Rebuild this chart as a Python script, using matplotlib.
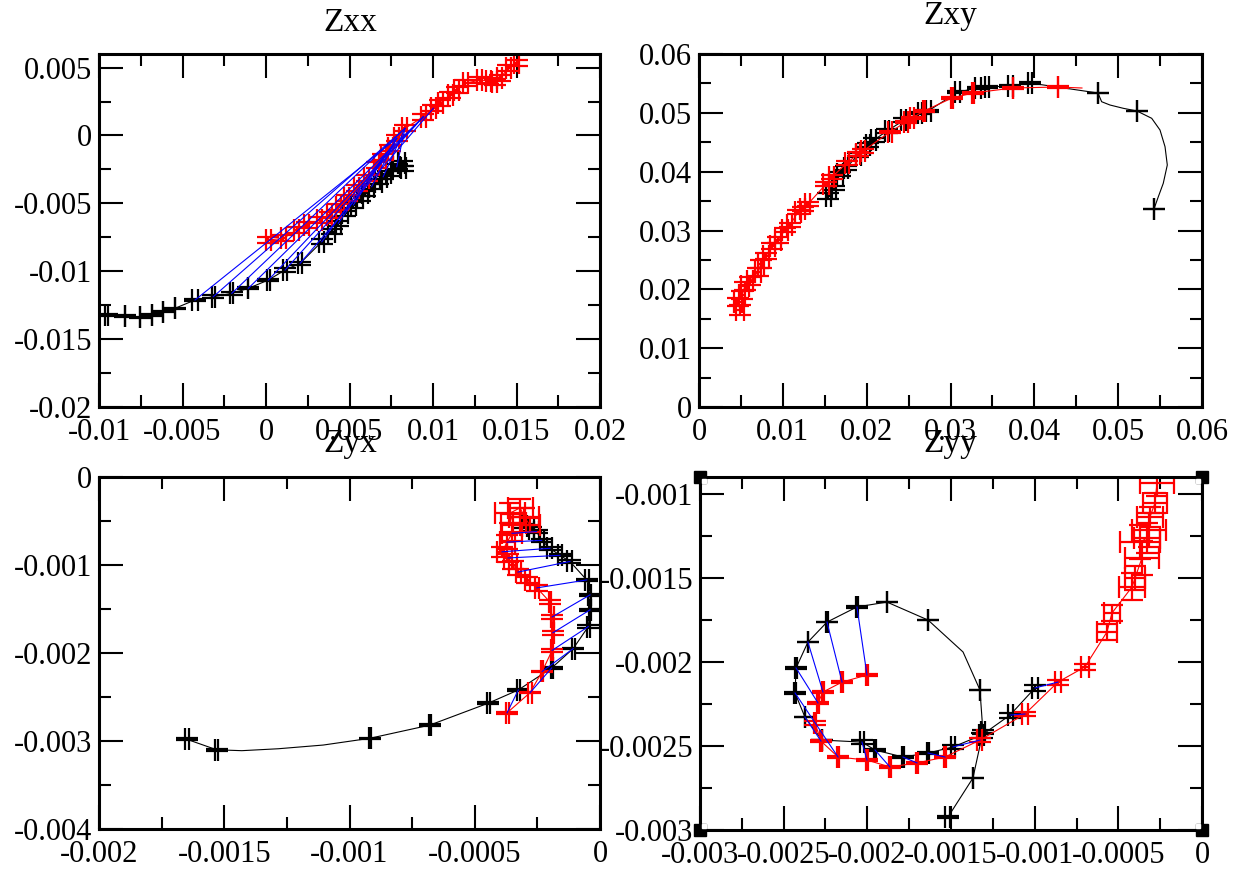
import numpy as np
import matplotlib
matplotlib.use("Agg")
from matplotlib import pyplot as plt
from matplotlib.ticker import MultipleLocator, FuncFormatter
from matplotlib.patches import Rectangle

plt.rcParams['font.family'] = ['Liberation Serif', 'DejaVu Serif']
plt.rcParams['axes.unicode_minus'] = False

# ---------------- Zxx ----------------
zxx_bx = [-0.00954, -0.00844, -0.00754, -0.00681, -0.00615, -0.00545, -0.00425, -0.00316, -0.00205,
          -0.00106, 0.00014, 0.00114, 0.00204, 0.00334, 0.00393, 0.00433, 0.00473, 0.00523, 0.00563,
          0.00593, 0.00633, 0.00672, 0.00702, 0.00732, 0.00783, 0.00813, 0.00822]
zxx_by = [-0.01322, -0.0133, -0.01339, -0.01322, -0.01298, -0.01273, -0.01212, -0.01188, -0.01163,
          -0.01126, -0.01065, -0.00991, -0.00942, -0.00783, -0.00709, -0.00647, -0.00573, -0.00512,
          -0.00463, -0.00426, -0.00377, -0.00341, -0.00304, -0.00279, -0.0023, -0.00205, -0.00242]
zxx_bex = [0.0001, 0, 0, 0, 0, 0, 0.0002, 0.0001, 0.0001, 0, 0.0001, 0.0001, 0.0001, 0.00015, 0.0002,
           0.00015, 0.0002, 0.00015, 0.0002, 0.0002, 0.00015, 0.0002, 0.0002, 0.00015, 0.0002, 0.0002, 0.00015]
zxx_bey = [0.00008, 0.00005, 0.00005, 0.00005, 0.00005, 0.00005, 0.00008, 0.0001, 0.0001, 0.00008,
           0.0001, 0.00012, 0.00012, 0.0002, 0.0002, 0.0002, 0.0002, 0.0002, 0.0002, 0.0002,
           0.0002, 0.0002, 0.0002, 0.0002, 0.0002, 0.0002, 0.0002]
zxx_rx = [0.00014, 0.00104, 0.00184, 0.00244, 0.00323, 0.00383, 0.00433, 0.00483, 0.00543, 0.00603,
          0.00663, 0.00703, 0.00743, 0.00783, 0.00832, 0.00942, 0.01002, 0.01042, 0.01102, 0.01142,
          0.01192, 0.01281, 0.01331, 0.01371, 0.01401, 0.01451, 0.01501]
zxx_ry = [-0.0077, -0.00758, -0.00696, -0.0066, -0.00623, -0.00586, -0.00525, -0.00463, -0.00389,
          -0.00316, -0.00218, -0.00157, -0.00095, -0.00021, 0.00052, 0.00138, 0.002, 0.00237, 0.00298,
          0.00335, 0.00384, 0.00408, 0.00403, 0.00396, 0.00421, 0.00494, 0.00531]
zxx_rex = [0.00015] * 27
zxx_rey = [0.00022] * 27
zxx_pairs = [(6, 13), (7, 14), (8, 14), (9, 15), (10, 15), (11, 15), (12, 16),
             (13, 11), (15, 12), (17, 13), (20, 13), (22, 14), (24, 14)]

# ---------------- Zxy ----------------
zxy_bx = [0.01539, 0.0161, 0.01682, 0.01753, 0.01897, 0.02016, 0.02087, 0.02242, 0.02445, 0.02636,
          0.02732, 0.03089, 0.03328, 0.03435, 0.0371, 0.03948, 0.04759, 0.05224, 0.05427]
zxy_by = [0.03586, 0.03722, 0.0396, 0.04062, 0.04283, 0.04453, 0.04538, 0.04691, 0.04874, 0.04997,
          0.05031, 0.05354, 0.05423, 0.05439, 0.05456, 0.05507, 0.05337, 0.05031, 0.03365]
zxy_bex = [0.0003, 0.0002, 0.0003, 0.0002, 0.0003, 0.0002, 0.0003, 0.0002, 0.0003, 0.0002,
           0.0003, 0.0003, 0.0003, 0.0002, 0.0003, 0.0002, 0, 0, 0]
zxy_bey = [0.0005, 0.0004, 0.0004, 0.0004, 0.0003, 0.0003, 0.0003, 0.0003, 0.0003, 0.0002,
           0.0002, 0.0002, 0.0002, 0.0002, 0.0002, 0.0002, 0, 0, 0]
zxy_tail_x = [0.04759, 0.04803, 0.04902, 0.05061, 0.05224, 0.054, 0.05499, 0.05559, 0.05586,
              0.05538, 0.05479, 0.05427]
zxy_tail_y = [0.05337, 0.05189, 0.05133, 0.05077, 0.05031, 0.04907, 0.04708, 0.04424, 0.04113,
              0.03802, 0.03574, 0.03365]
zxy_rx = [0.00489, 0.00465, 0.00513, 0.00549, 0.00608, 0.00704, 0.0074, 0.00799, 0.00871, 0.00942,
          0.01026, 0.01085, 0.01181, 0.0124, 0.013, 0.01515, 0.01586, 0.01765, 0.01897, 0.01956,
          0.02278, 0.02469, 0.02541, 0.02684, 0.03018, 0.03268, 0.03745, 0.04282]
zxy_ry = [0.01649, 0.01785, 0.01904, 0.02057, 0.02142, 0.02295, 0.02431, 0.02567, 0.02737, 0.02838,
          0.03008, 0.03093, 0.03314, 0.03365, 0.0345, 0.0379, 0.03909, 0.04147, 0.043, 0.04351,
          0.04674, 0.04844, 0.04912, 0.05031, 0.05252, 0.05337, 0.05422, 0.05439]
zxy_rex = [0.0005, 0.0005, 0.0004, 0.0005, 0.0004, 0.0004, 0.0004, 0.0004, 0.0003, 0.0004,
           0.0003, 0.0003, 0.0003, 0.0003, 0.0003, 0.0003, 0.0003, 0.0002, 0.0002, 0.0002,
           0.0002, 0.0002, 0.0002, 0.0001, 0.0001, 0.0001, 0, 0]
zxy_rey = [0.0008, 0.0007, 0.0007, 0.0007, 0.0006, 0.0006, 0.0006, 0.0005, 0.0005, 0.0005,
           0.0004, 0.0004, 0.0004, 0.0004, 0.0004, 0.0003, 0.0003, 0.0003, 0.0003, 0.0003,
           0.0002, 0.0002, 0.0002, 0.0002, 0.0002, 0.0002, 0.0001, 0.0001]
zxy_rend_x = [0.04568]
zxy_rend_y = [0.05422]

# ---------------- Zyx ----------------
zyx_bx = [-0.00165, -0.00153, -0.00092, -0.00068, -0.000446, -0.000326, -0.000193, -0.000107,
          -0.0000467, -0.00004, -0.00004, -0.000053, -0.00012, -0.00016, -0.0002, -0.000233,
          -0.000253, -0.000275, -0.000303]
zyx_by = [-0.00298, -0.0031, -0.00297, -0.00282, -0.00257, -0.00242, -0.00217, -0.00195, -0.0017,
          -0.00151, -0.00134, -0.00117, -0.00096, -0.00089, -0.00081, -0.00072, -0.00062, -0.00059,
          -0.000557]
zyx_bex = [0.000008, 0.000005, 0.000004, 0.000004, 0.000006, 0.000006, 0.000004, 0.000006, 0.000006,
           0.000004, 0.000006, 0.000008, 0.00001, 0.000008, 0.00001, 0.000008, 0.00001, 0.00001, 0.00001]
zyx_bey = [0.00001, 0.000008, 0.000008, 0.000008, 0.000008, 0.00001, 0.00001, 0.00001, 0.000015,
           0.000015, 0.00001, 0.000015, 0.000015, 0.00001, 0.000015, 0.000015, 0.00002, 0.00002, 0.00002]
zyx_mid_x = [-0.00143, -0.001284, -0.001105]
zyx_mid_y = [-0.00311, -0.003088, -0.003046]
zyx_rx = [-0.000371, -0.000279, -0.000231, -0.000191, -0.000188, -0.000191, -0.0002, -0.000252,
          -0.000291, -0.000327, -0.000347, -0.000367, -0.000391, -0.000371, -0.000351, -0.000347,
          -0.000359, -0.000319, -0.000303, -0.000279]
zyx_ry = [-0.00268, -0.00245, -0.00221, -0.00197, -0.00177, -0.00159, -0.00142, -0.00126, -0.00117,
          -0.00108, -0.001, -0.00092, -0.00085, -0.00074, -0.00064, -0.00052, -0.00041, -0.00035,
          -0.00045, -0.00055]
zyx_rex = [0.000006, 0.000008, 0.000004, 0.000004, 0.000004, 0.000006, 0.000004, 0.000008, 0.00001,
           0.00001, 0.000015, 0.000015, 0.00002, 0.00003, 0.00004, 0.00005, 0.00006, 0.00005, 0.00006, 0.00004]
zyx_rey = [0.00001, 0.00001, 0.00001, 0.000015, 0.00002, 0.00002, 0.00002, 0.00003, 0.00003,
           0.00003, 0.00004, 0.00005, 0.00006, 0.00008, 0.00009, 0.0001, 0.00011, 0.0001, 0.0001, 0.00008]
zyx_pairs = [(5, 0), (6, 1), (7, 2), (8, 3), (9, 4), (10, 5), (11, 7), (12, 9), (13, 11),
             (14, 12), (15, 13), (16, 14)]

# ---------------- Zyy ----------------
zyy_bx = [-0.001518, -0.001369, -0.001309, -0.001327, -0.001637, -0.001883, -0.002062, -0.002241,
          -0.002355, -0.002426, -0.002432, -0.002373, -0.002271, -0.002032, -0.001954, -0.001787,
          -0.001637, -0.001488, -0.001315, -0.001147, -0.000998]
zyy_by = [-0.002923, -0.002691, -0.002417, -0.002167, -0.001751, -0.001644, -0.001673, -0.001763,
          -0.001882, -0.002036, -0.002185, -0.002328, -0.002465, -0.002477, -0.002524, -0.002566,
          -0.002542, -0.002506, -0.002435, -0.002316, -0.002155]
zyy_bex = [0.000015, 0, 0.00001, 0, 0, 0, 0.000005, 0.000005, 0, 0.000005, 0.000005, 0, 0,
           0.00001, 0.000008, 0.000005, 0.000005, 0.00001, 0.000015, 0.000015, 0.00002]
zyy_bey = [0.000008, 0, 0.00001, 0, 0, 0, 0.000005, 0, 0, 0.000005, 0.000005, 0, 0,
           0.00001, 0.000008, 0.000008, 0.000008, 0.00001, 0.000015, 0.000015, 0.00002]
zyy_bend_x = [-0.001428]
zyy_bend_y = [-0.001941]
zyy_rx = [-0.002002, -0.002151, -0.002265, -0.002295, -0.002313, -0.002277, -0.002175, -0.002002,
          -0.001865, -0.001703, -0.001536, -0.001327, -0.001058, -0.000861, -0.0007, -0.000568,
          -0.000538, -0.000418, -0.0004, -0.000359, -0.000371, -0.000329, -0.000317, -0.000311,
          -0.000281, -0.000269]
zyy_ry = [-0.002078, -0.00212, -0.002179, -0.002244, -0.002363, -0.002471, -0.002566, -0.002584,
          -0.002625, -0.002601, -0.002566, -0.002465, -0.00231, -0.00212, -0.00203, -0.001822,
          -0.001709, -0.001554, -0.001501, -0.001382, -0.001287, -0.001263, -0.001215, -0.001138,
          -0.001055, -0.000936]
zyy_rex = [0.000005, 0.000005, 0.000005, 0.000005, 0.000008, 0.000005, 0.000005, 0.000005, 0.000005,
           0.000005, 0.000005, 0.000015, 0.00002, 0.00002, 0.000025, 0.00006, 0.00005, 0.00008,
           0.00006, 0.0001, 0.00012, 0.00008, 0.0001, 0.00008, 0.00007, 0.0001]
zyy_rey = [0.000008, 0.000008, 0.000008, 0.000008, 0.00001, 0.000008, 0.000008, 0.000008, 0.000008,
           0.000008, 0.000008, 0.00001, 0.00001, 0.000015, 0.00002, 0.00005, 0.00005, 0.00008,
           0.00007, 0.0001, 0.0001, 0.00009, 0.0001, 0.00006, 0.00006, 0.00008]
zyy_pairs = [(6, 0), (7, 1), (8, 2), (9, 3), (10, 6), (11, 5), (13, 7), (14, 8), (15, 9),
             (16, 10), (17, 11), (19, 12), (20, 13)]


def fmt(v, pos):
    if abs(v) < 1e-12:
        return '0'
    return '%g' % round(v, 7)


def setup(ax, xlim, ylim, xmaj, xmin, ymaj, ymin):
    ax.set_xlim(xlim)
    ax.set_ylim(ylim)
    ax.xaxis.set_major_locator(MultipleLocator(xmaj))
    ax.xaxis.set_minor_locator(MultipleLocator(xmin))
    ax.yaxis.set_major_locator(MultipleLocator(ymaj))
    ax.yaxis.set_minor_locator(MultipleLocator(ymin))
    ax.xaxis.set_major_formatter(FuncFormatter(fmt))
    ax.yaxis.set_major_formatter(FuncFormatter(fmt))
    ax.tick_params(which='both', direction='in', top=True, right=True, width=1.5, labelsize=22)
    ax.tick_params(which='major', length=17)
    ax.tick_params(which='minor', length=8.5)
    ax.tick_params(axis='x', pad=8)
    ax.tick_params(axis='y', pad=5)
    for s in ax.spines.values():
        s.set_linewidth(2.2)


def draw(ax, x, y, ex, ey, color, linex=None, liney=None):
    if linex is None:
        linex, liney = x, y
    ax.plot(linex, liney, color=color, lw=0.8)
    ax.errorbar(x, y, xerr=ex, yerr=ey, fmt='none', ecolor=color, elinewidth=1.6,
                capsize=8.2, capthick=1.6)


def links(ax, bx, by, rx, ry, pairs):
    for i, j in pairs:
        ax.plot([bx[i], rx[j]], [by[i], ry[j]], color='#0000ff', lw=0.8)


W, H = 1242, 873
fig = plt.figure(figsize=(W / 100, H / 100), dpi=100)


def box(x0, y0, x1, y1):
    return [x0 / W, 1 - y1 / H, (x1 - x0) / W, (y1 - y0) / H]


ax1 = fig.add_axes(box(99, 54, 600, 407))
ax2 = fig.add_axes(box(699, 54, 1202, 407))
ax3 = fig.add_axes(box(99, 477, 600, 829))
ax4 = fig.add_axes(box(700, 477, 1202, 830))

# Zxx
draw(ax1, zxx_bx, zxx_by, zxx_bex, zxx_bey, 'black')
draw(ax1, zxx_rx, zxx_ry, zxx_rex, zxx_rey, '#ff0000')
links(ax1, zxx_bx, zxx_by, zxx_rx, zxx_ry, zxx_pairs)
setup(ax1, (-0.01, 0.02), (-0.02, 0.006), 0.005, 0.0025, 0.005, 0.0025)

# Zxy
draw(ax2, zxy_bx, zxy_by, zxy_bex, zxy_bey, 'black',
     zxy_bx[:-3] + zxy_tail_x, zxy_by[:-3] + zxy_tail_y)
draw(ax2, zxy_rx, zxy_ry, zxy_rex, zxy_rey, '#ff0000',
     zxy_rx + zxy_rend_x, zxy_ry + zxy_rend_y)
setup(ax2, (0, 0.06), (0, 0.06), 0.01, 0.005, 0.01, 0.005)

# Zyx
draw(ax3, zyx_bx, zyx_by, zyx_bex, zyx_bey, 'black',
     zyx_bx[:2] + zyx_mid_x + zyx_bx[2:], zyx_by[:2] + zyx_mid_y + zyx_by[2:])
draw(ax3, zyx_rx, zyx_ry, zyx_rex, zyx_rey, '#ff0000')
links(ax3, zyx_bx, zyx_by, zyx_rx, zyx_ry, zyx_pairs)
setup(ax3, (-0.002, 0), (-0.004, 0), 0.0005, 0.00025, 0.001, 0.0005)

# Zyy
draw(ax4, zyy_bx, zyy_by, zyy_bex, zyy_bey, 'black',
     zyy_bx[:4] + zyy_bend_x + zyy_bx[4:], zyy_by[:4] + zyy_bend_y + zyy_by[4:])
draw(ax4, zyy_rx, zyy_ry, zyy_rex, zyy_rey, '#ff0000')
links(ax4, zyy_bx, zyy_by, zyy_rx, zyy_ry, zyy_pairs)
setup(ax4, (-0.003, 0), (-0.003, -0.0009), 0.0005, 0.00025, 0.0005, 0.00025)

# titles
fig.text(350 / W, 1 - 23 / H, 'Zxx', ha='center', va='center', fontsize=24)
fig.text(950 / W, 1 - 16 / H, 'Zxy', ha='center', va='center', fontsize=24)
fig.text(350 / W, 1 - 444 / H, 'Zyx', ha='center', va='center', fontsize=24)
fig.text(950 / W, 1 - 444 / H, 'Zyy', ha='center', va='center', fontsize=24)

# selection handles on the last graph
for cx, cy in [(700, 477), (1202, 477), (700, 830), (1202, 830)]:
    fig.add_artist(Rectangle(((cx - 6) / W, 1 - (cy + 6) / H), 12 / W, 12 / H,
                             transform=fig.transFigure, color='black', zorder=10))
    dx = 2 if cx < 900 else -6
    dy = 2 if cy < 600 else -6
    fig.add_artist(Rectangle(((cx + dx) / W, 1 - (cy + dy + 4) / H), 4 / W, 4 / H,
                             transform=fig.transFigure, color='white', zorder=11))

fig.savefig('out.png', dpi=100)
